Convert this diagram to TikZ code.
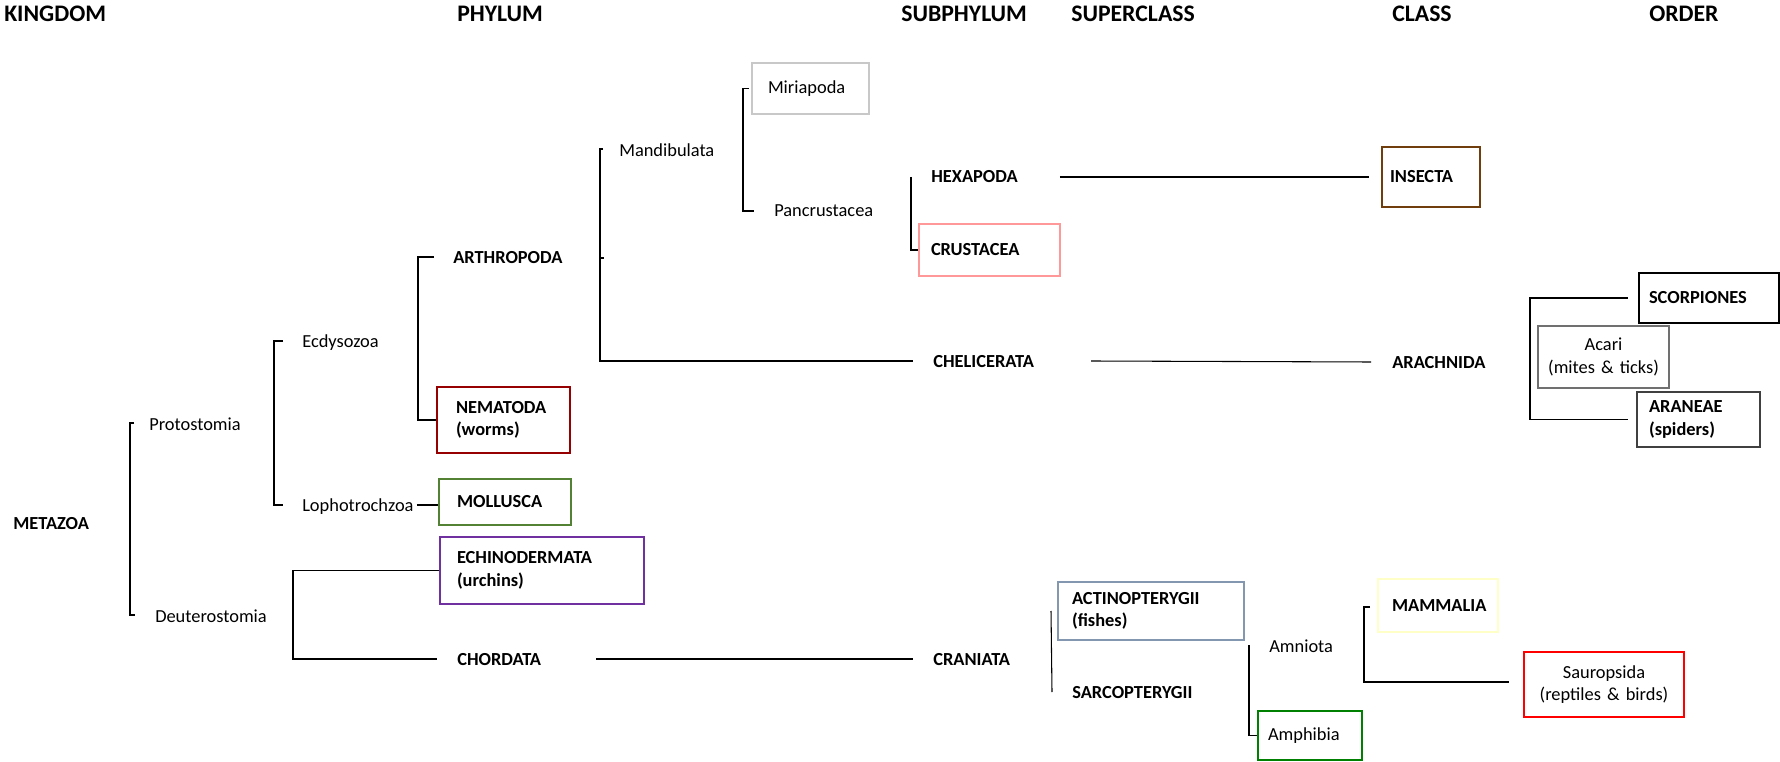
\documentclass[tikz,border=0pt]{standalone}
\usepackage{fontspec}
\setmainfont{Carlito}
\usetikzlibrary{calc}
\definecolor{cMiri}{RGB}{200,200,200}
\definecolor{cCrus}{RGB}{255,153,153}
\definecolor{cIns}{RGB}{112,62,12}
\definecolor{cAcari}{RGB}{112,112,112}
\definecolor{cAran}{RGB}{64,64,64}
\definecolor{cNem}{RGB}{150,0,0}
\definecolor{cMoll}{RGB}{84,130,53}
\definecolor{cEchi}{RGB}{112,48,160}
\definecolor{cAct}{RGB}{132,151,176}
\definecolor{cMam}{RGB}{255,255,200}
\definecolor{cSaur}{RGB}{255,0,0}
\definecolor{cAmph}{RGB}{0,128,0}
\begin{document}
\begin{tikzpicture}[x=0.75pt,y=-0.75pt,
  lab/.style={inner sep=0pt, anchor=west, text height=8.9pt, text depth=0pt, font=\fontsize{13.8}{16.8}\selectfont},
  blab/.style={lab, font=\fontsize{13.8}{16.8}\selectfont\bfseries},
  head/.style={inner sep=0pt, anchor=west, text height=11.5pt, text depth=0pt, font=\fontsize{17.8}{21}\selectfont\bfseries},
  bx/.style n args={4}{draw=#4, line width=1.5pt, text width=#1, minimum height=#2, inner xsep=#3, inner ysep=0pt, align=left, font=\fontsize{13.8}{16.8}\selectfont},
  bbx/.style n args={4}{bx={#1}{#2}{#3}{#4}, font=\fontsize{13.8}{16.8}\selectfont\bfseries},
  ln/.style={line width=0.8pt}
]
\useasboundingbox (0,0) rectangle (1780,762);

% headings
\node[head] (hk) at (4,14) {KINGDOM};
\node[head] (hp) at (457,14) {PHYLUM};
\node[head] (hsp) at (901,14) {SUBPHYLUM};
\node[head] (hsc) at (1071,14) {SUPERCLASS};
\node[head] (hc) at (1392,14) {CLASS};
\node[head] (ho) at (1649,14) {ORDER};

% plain labels
\node[blab] (meta) at (13,524) {METAZOA};
\node[lab] (prot) at (149,425) {Protostomia};
\node[lab] (deut) at (155,617) {Deuterostomia};
\node[lab] (ecd) at (302,342) {Ecdysozoa};
\node[lab] (loph) at (302,506) {Lophotrochzoa};
\node[blab] (arth) at (453,258) {ARTHROPODA};
\node[blab] (chord) at (457,660) {CHORDATA};
\node[lab] (mand) at (619,151) {Mandibulata};
\node[lab] (panc) at (774,211) {Pancrustacea};
\node[blab] (hex) at (931,177) {HEXAPODA};
\node[blab] (chel) at (933,362) {CHELICERATA};
\node[blab] (cran) at (933,660) {CRANIATA};
\node[blab] (sarc) at (1072,693) {SARCOPTERYGII};
\node[lab] (amn) at (1269,647) {Amniota};
\node[blab] (arach) at (1392,363) {ARACHNIDA};

% boxes
\node[bx={63.75pt}{38.25pt}{12pt}{cMiri}] (miri) at (810.5,88.5) {Miriapoda};
\node[bbx={87.75pt}{39pt}{9pt}{cCrus}] (crus) at (989.5,250) {CRUSTACEA};
\node[bbx={61.5pt}{45pt}{6pt}{cIns}] (ins) at (1431,177) {INSECTA};
\node[bbx={90pt}{37.5pt}{7.5pt}{black}, line width=2pt] (scor) at (1709,298) {SCORPIONES};
\node[bx={86.25pt}{46.5pt}{6pt}{cAcari}, align=center] (acari) at (1603.5,357) {Acari\\(mites \& ticks)};
\node[bbx={74.25pt}{41.25pt}{9pt}{cAran}] (aran) at (1698.5,419.5) {ARANEAE\\(spiders)};
\node[bbx={71.25pt}{49.5pt}{14.25pt}{cNem}] (nem) at (503.5,420) {NEMATODA\\(worms)};
\node[bbx={72pt}{34.5pt}{13.5pt}{cMoll}] (moll) at (505,502) {MOLLUSCA};
\node[bbx={127.5pt}{50.25pt}{12.75pt}{cEchi}] (echi) at (542,570.5) {ECHINODERMATA\\(urchins)};
\node[bbx={118.5pt}{43.5pt}{10.5pt}{cAct}] (act) at (1151,611) {ACTINOPTERYGII\\(fishes)};
\node[bbx={69pt}{39.75pt}{10.5pt}{cMam}] (mam) at (1438,605.5) {MAMMALIA};
\node[bx={108pt}{48.75pt}{6pt}{cSaur}, align=center] (saur) at (1604,684.5) {Sauropsida\\(reptiles \& birds)};
\node[bx={63pt}{36.75pt}{7.5pt}{cAmph}] (amph) at (1310,735.5) {Amphibia};

% connectors
\draw[ln] ($(prot.west)+(-15,-2)$) -- ($(prot.west)+(-19,-2)$) |- ($(deut.west)+(-20,-2)$);
\draw[ln] ($(ecd.west)+(-19,-1)$) -- ($(ecd.west)+(-28,-1)$) |- ($(loph.west)+(-19,-1)$);
\draw[ln] ($(arth.west)+(-19,-1)$) -- ($(arth.west)+(-35,-1)$) |- (nem.west);
\draw[ln] (loph.east) ++(3,-1) coordinate (lt) -- (lt -| moll.west);
\draw[ln] (echi.west) -- ++(-146,0) |- ($(chord.west)+(-20,-1)$);
\draw[ln] ($(chord.east)+(55,-1)$) -- ($(cran.west)+(-20,-1)$);
\coordinate (mspine) at ($(mand.west)+(-19,-2)$);
\draw[ln] ($(mand.west)+(-16,-2)$) -- (mspine) |- ($(chel.west)+(-20,-1)$);
\draw[ln] (mspine |- arth.west) -- ++(4,0);
\draw[ln] ($(miri.west)+(-2,0)$) -- ($(miri.west)+(-8,0)$) |- ($(panc.west)+(-20,0)$);
\draw[ln] ($(hex.west)+(-20,0)$) |- (crus.west);
\draw[ln] ($(hex.east)+(42,0)$) -- ($(ins.west)+(-12,0)$);
\draw[ln] ($(chel.east)+(57,-1)$) -- ($(arach.west)+(-21,-1)$);
\draw[ln] ($(scor.west)+(-10,0)$) -| ($(aran.west)+(-106,0)$) -- ($(aran.west)+(-8,0)$);
\draw[ln] ($(act.west)+(-6,0)$) -- ($(sarc.west)+(-20,-1)$);
\draw[ln] ($(amn.west)+(-20,-2)$) |- (amph.west);
\draw[ln] ($(mam.west)+(-7,1.5)$) -- ($(mam.west)+(-13,1.5)$) |- ($(saur.west)+(-14,-2.5)$);
\end{tikzpicture}
\end{document}
